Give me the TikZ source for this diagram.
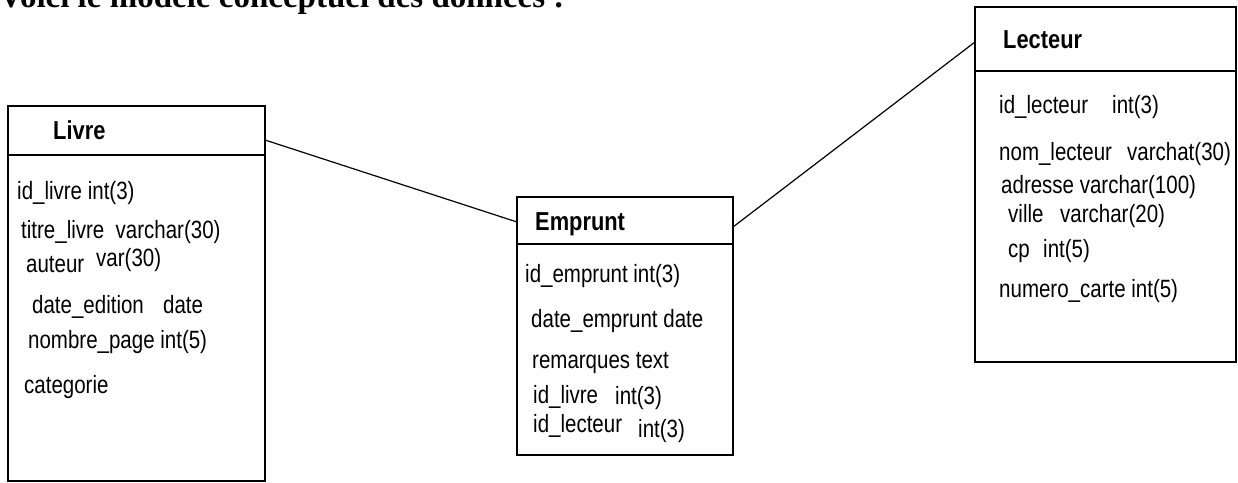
\documentclass[tikz,border=0pt]{standalone}
\usepackage{fontspec}
\setmainfont{Liberation Sans}
\newfontfamily\narrowfont[FakeStretch=0.82]{Liberation Sans}
\newfontfamily\headfont[FakeStretch=0.84]{Liberation Sans}
\newfontfamily\titlefont{Liberation Serif}
\tikzset{
  headbox/.style={draw=black, line width=1.6pt, inner sep=0pt, outer sep=0pt, anchor=north west},
  bodybox/.style={draw=black, line width=1.1pt, inner sep=0pt, outer sep=0pt, anchor=north west},
  headtxt/.style={anchor=base west, inner sep=0pt, font=\headfont\bfseries\fontsize{26}{28}\selectfont},
  attr/.style={anchor=base west, inner sep=0pt, font=\narrowfont\fontsize{25}{27}\selectfont},
  link/.style={draw=black, line width=1.2pt},
}
\begin{document}
\begin{tikzpicture}[x=1pt,y=-1pt]
\clip (0,0) rectangle (1238,482);
\fill[white] (0,0) rectangle (1238,482);
% title (cut off at top)
\node[anchor=base west, inner sep=0pt, font=\titlefont\bfseries\fontsize{33}{35}\selectfont] (title) at (-1,7.5) {Voici le modèle conceptuel des données :};
% Livre
\node[bodybox, minimum width=257pt, minimum height=326pt] (livreB) at (8,155) {};
\node[headbox, minimum width=257pt, minimum height=49pt] (livreH) at (8,106) {};
\node[headtxt] (livreT) at (53,139) {Livre};
\node[attr] (l1) at (17,199) {id\_livre int(3)};
\node[attr] (l2) at (21,238) {titre\_livre\ \ varchar(30)};
\node[attr] (l3a) at (26,272) {auteur};
\node[attr] (l3b) at (96,266) {var(30)};
\node[attr] (l4a) at (32,313) {date\_edition};
\node[attr] (l4b) at (163,313) {date};
\node[attr] (l5) at (28,348) {nombre\_page int(5)};
\node[attr] (l6) at (24,393) {categorie};
% Emprunt
\node[bodybox, minimum width=216pt, minimum height=211pt] (emprB) at (517,244) {};
\node[headbox, minimum width=216pt, minimum height=47pt] (emprH) at (517,197) {};
\node[headtxt] (emprT) at (535,230) {Emprunt};
\node[attr] (e1) at (525,282) {id\_emprunt int(3)};
\node[attr] (e2) at (531,327) {date\_emprunt date};
\node[attr] (e3) at (532,368) {remarques text};
\node[attr] (e4a) at (533,403) {id\_livre};
\node[attr] (e4b) at (615,404) {int(3)};
\node[attr] (e5a) at (533,432) {id\_lecteur};
\node[attr] (e5b) at (638,437) {int(3)};
% Lecteur
\node[bodybox, minimum width=261pt, minimum height=291pt] (lecB) at (975,71) {};
\node[headbox, minimum width=261pt, minimum height=64pt] (lecH) at (975,7) {};
\node[headtxt] (lecT) at (1003,48) {Lecteur};
\node[attr] (r1a) at (999,113) {id\_lecteur};
\node[attr] (r1b) at (1112,113) {int(3)};
\node[attr] (r2a) at (999,160) {nom\_lecteur};
\node[attr] (r2b) at (1127,160) {varchat(30)};
\node[attr] (r3) at (1001,193) {adresse varchar(100)};
\node[attr] (r4a) at (1008,222) {ville};
\node[attr] (r4b) at (1060,222) {varchar(20)};
\node[attr] (r5a) at (1008,257) {cp};
\node[attr] (r5b) at (1043,257) {int(5)};
\node[attr] (r6) at (999,297) {numero\_carte int(5)};
% connectors
\draw[link] ([yshift=-9.5pt]livreH.east) -- ([yshift=-1.5pt]emprH.west);
\draw[link] ([yshift=-6.5pt]emprH.east) -- ([yshift=-3pt]lecH.west);
\end{tikzpicture}
\end{document}
